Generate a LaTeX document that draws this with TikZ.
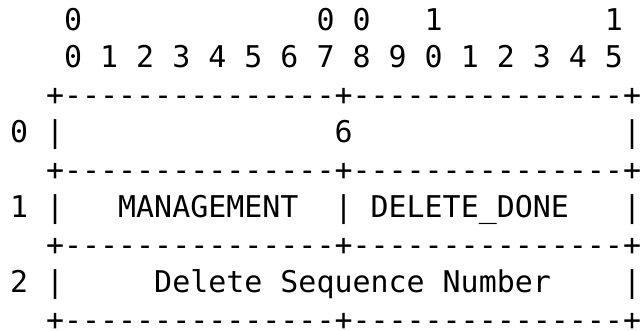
\documentclass[tikz,border=0pt]{standalone}
\usepackage{fontspec}
\newfontfamily\asciimono[Ligatures=TeXOff]{DejaVu Sans Mono}
\tikzset{
  asc/.style={anchor=base west, inner sep=0pt, outer sep=0pt,
    font=\asciimono\fontsize{29.95pt}{37.5pt}\selectfont, text=black}
}
% column c left edge: 10 + 18.03 c ; row r baseline: 30 + 37.5 r (downwards)
\newcommand\cellat[4]{\node[asc] (#1) at ({10pt+18.03pt*(#2)},{-30pt-37.5pt*(#3)}) {#4};}
\begin{document}
\begin{tikzpicture}
\useasboundingbox[fill=white] (0,0) rectangle (640pt,-330pt);
% header row 0
\cellat{ha}{3}{0}{0}
\cellat{hb}{17}{0}{0}
\cellat{hc}{19}{0}{0}
\cellat{hd}{23}{0}{1}
\cellat{he}{33}{0}{1}
% header row 1
\foreach \d [count=\i from 0] in {0,1,2,3,4,5,6,7,8,9,0,1,2,3,4,5}{
  \cellat{bit\i}{3+2*\i}{1}{\d}
}
% borders
\foreach \r in {2,4,6,8}{
  \cellat{line\r}{2}{\r}{+---------------+---------------+}
}
% row 0
\cellat{r0n}{0}{3}{0}
\cellat{r0l}{2}{3}{|}
\cellat{r0t}{18}{3}{6}
\cellat{r0r}{34}{3}{|}
% row 1
\cellat{r1n}{0}{5}{1}
\cellat{r1l}{2}{5}{|}
\cellat{r1a}{6}{5}{MANAGEMENT}
\cellat{r1m}{18}{5}{|}
\cellat{r1b}{20}{5}{DELETE\_DONE}
\cellat{r1r}{34}{5}{|}
% row 2
\cellat{r2n}{0}{7}{2}
\cellat{r2l}{2}{7}{|}
\cellat{r2t}{8}{7}{Delete\ Sequence\ Number}
\cellat{r2r}{34}{7}{|}
\end{tikzpicture}
\end{document}
